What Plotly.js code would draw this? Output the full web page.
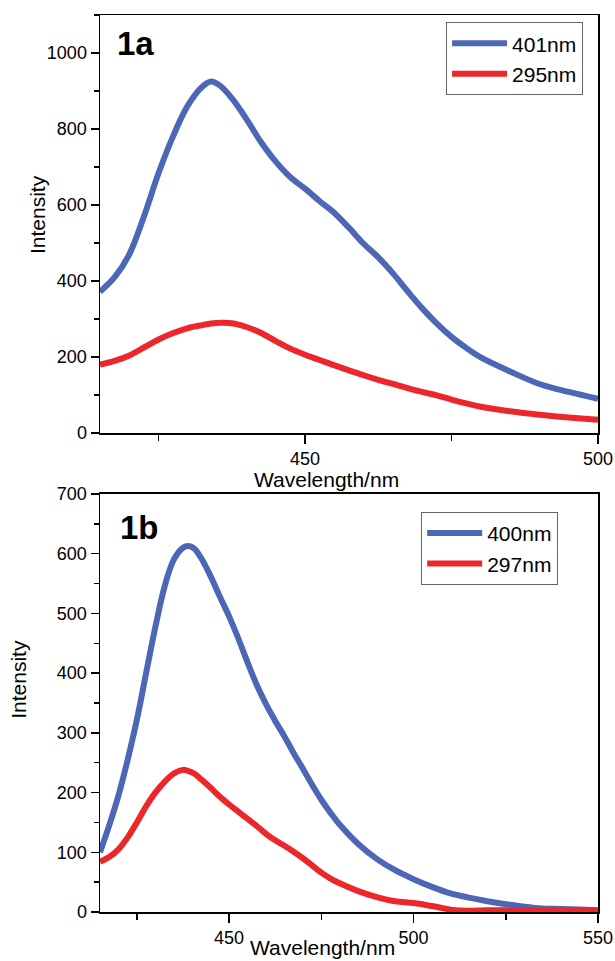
<!DOCTYPE html>
<html>
<head>
<meta charset="utf-8">
<script src="https://cdn.plot.ly/plotly-3.0.1.min.js"></script>
<style>html,body{margin:0;padding:0;background:#fff;}#chart{width:615px;height:961px;}</style>
</head>
<body>
<div id="chart"></div>
<script>
// Panel 1a
const wlA = [415, 417.5, 420, 422.5, 425, 427.5, 430, 432.5, 434, 435.5, 437.5, 440, 442.5, 445, 447.5, 450, 452.5, 455, 457.5, 460, 462.5, 465, 467.5, 470, 472.5, 475, 477.5, 480, 485, 490, 495, 500];
const blueA = [372, 410, 470, 570, 684, 782, 862, 912, 925, 914, 881, 826, 765, 714, 673, 643, 610, 579, 540, 498, 462, 420, 373, 328, 288, 253, 224, 199, 162, 129, 108, 90];
const redA = [180, 190, 204, 225, 246, 263, 276, 284, 288, 290, 289, 279, 263, 242, 222, 206, 192, 178, 165, 152, 140, 129, 118, 108, 99, 88, 78, 69, 57, 48, 41, 35];
// Panel 1b
const wlB = [415, 417.5, 420, 422.5, 425, 427.5, 430, 432.5, 435, 437.5, 439, 440.5, 442.5, 445, 447.5, 450, 452.5, 455, 457.5, 460, 462.5, 465, 467.5, 470, 472.5, 475, 477.5, 480, 485, 490, 495, 500, 505, 510, 515, 520, 525, 530, 535, 540, 545, 550];
const blueB = [100, 145, 195, 255, 322, 400, 477, 545, 590, 610, 613, 609, 592, 562, 528, 495, 458, 418, 380, 348, 320, 294, 266, 240, 213, 188, 166, 146, 114, 89, 70, 55, 42, 31, 24, 18, 13, 9, 6, 5, 4, 3];
const redB = [84, 92, 105, 125, 150, 177, 200, 218, 232, 238, 236, 232, 222, 208, 193, 180, 168, 156, 144, 131, 120, 111, 101, 90, 78, 66, 56, 48, 35, 25, 18, 15, 10, 4, 2, 3, 3, 3, 3, 2, 2, 2];
const namesA = ['401nm', '295nm'];
const namesB = ['400nm', '297nm'];
const xTitle = 'Wavelength/nm';
const yTitle = 'Intensity';
const blue = '#4d66b6';
const red = '#ec2629';

const traces = [
  {x: wlA, y: blueA, xaxis: 'x', yaxis: 'y', name: namesA[0], mode: 'lines', line: {color: blue, width: 6, shape: 'spline', smoothing: 1}, legend: 'legend'},
  {x: wlA, y: redA, xaxis: 'x', yaxis: 'y', name: namesA[1], mode: 'lines', line: {color: red, width: 6, shape: 'spline', smoothing: 1}, legend: 'legend'},
  {x: wlB, y: blueB, xaxis: 'x2', yaxis: 'y2', name: namesB[0], mode: 'lines', line: {color: blue, width: 6, shape: 'spline', smoothing: 1}, legend: 'legend2'},
  {x: wlB, y: redB, xaxis: 'x2', yaxis: 'y2', name: namesB[1], mode: 'lines', line: {color: red, width: 6, shape: 'spline', smoothing: 1}, legend: 'legend2'}
];

const fontFam = 'Liberation Sans, Arial, sans-serif';
function xax(range, anchor) {
  return {
    range: range, anchor: anchor, showgrid: false, zeroline: false,
    showline: true, linecolor: '#000', linewidth: 1.5, mirror: true,
    ticks: 'outside', ticklen: 9, tickwidth: 1.5, tickcolor: '#000',
    tick0: 450, dtick: 50,
    minor: {dtick: 25, tick0: 425, ticks: 'outside', ticklen: 6, tickwidth: 1.5, tickcolor: '#000'},
    tickfont: {family: fontFam, size: 18, color: '#000'}
  };
}
function yax(range, dtick, domain, anchor) {
  return {
    range: range, domain: domain, anchor: anchor, showgrid: false, zeroline: false,
    showline: true, linecolor: '#000', linewidth: 1.5, mirror: true,
    ticks: 'outside', ticklen: 8, tickwidth: 1.5, tickcolor: '#000',
    tick0: 0, dtick: dtick,
    minor: {dtick: dtick / 2, ticks: 'outside', ticklen: 5, tickwidth: 1.5, tickcolor: '#000'},
    tickfont: {family: fontFam, size: 18, color: '#000'}
  };
}

const legendStyle = {xanchor: 'right', yanchor: 'top', bgcolor: '#fff', bordercolor: '#666', borderwidth: 1, font: {family: fontFam, size: 21, color: '#000'}, tracegroupgap: 0, itemwidth: 55};
const titleFont = {family: fontFam, size: 21, color: '#000'};
const yTitleFont = {family: fontFam, size: 21, color: '#000'};

const layout = {
  width: 615, height: 961,
  margin: {l: 100, r: 17, t: 15, b: 49},
  paper_bgcolor: '#fff', plot_bgcolor: '#fff',
  font: {family: fontFam, color: '#000'},
  xaxis: xax([415, 500], 'y'),
  yaxis: yax([0, 1100], 200, [0.534, 1], 'x'),
  xaxis2: xax([415, 550], 'y2'),
  yaxis2: yax([0, 700], 100, [0, 0.466], 'x2'),
  showlegend: true,
  legend: Object.assign({x: 0.97, y: 0.992}, legendStyle),
  legend2: Object.assign({x: 0.92, y: 0.446}, legendStyle),
  annotations: [
    {text: '<b>1a</b>', xref: 'x domain', yref: 'y domain', x: 0.03, y: 0.933, xanchor: 'left', yanchor: 'middle', showarrow: false, font: {family: fontFam, size: 33, color: '#000'}},
    {text: '<b>1b</b>', xref: 'x2 domain', yref: 'y2 domain', x: 0.036, y: 0.921, xanchor: 'left', yanchor: 'middle', showarrow: false, font: {family: fontFam, size: 33, color: '#000'}},
    {text: xTitle, xref: 'paper', yref: 'paper', x: 0.455, y: 0.4975, xanchor: 'center', yanchor: 'top', showarrow: false, font: titleFont},
    {text: xTitle, xref: 'paper', yref: 'paper', x: 0.446, y: -0.0546, xanchor: 'center', yanchor: 'bottom', showarrow: false, font: titleFont},
    {text: yTitle, xref: 'paper', yref: 'paper', x: -0.1265, y: 0.777, xanchor: 'center', yanchor: 'middle', textangle: -90, showarrow: false, font: yTitleFont},
    {text: yTitle, xref: 'paper', yref: 'paper', x: -0.1627, y: 0.26, xanchor: 'center', yanchor: 'middle', textangle: -90, showarrow: false, font: yTitleFont}
  ]
};

Plotly.newPlot('chart', traces, layout, {displayModeBar: false, staticPlot: true});
</script>
</body>
</html>
